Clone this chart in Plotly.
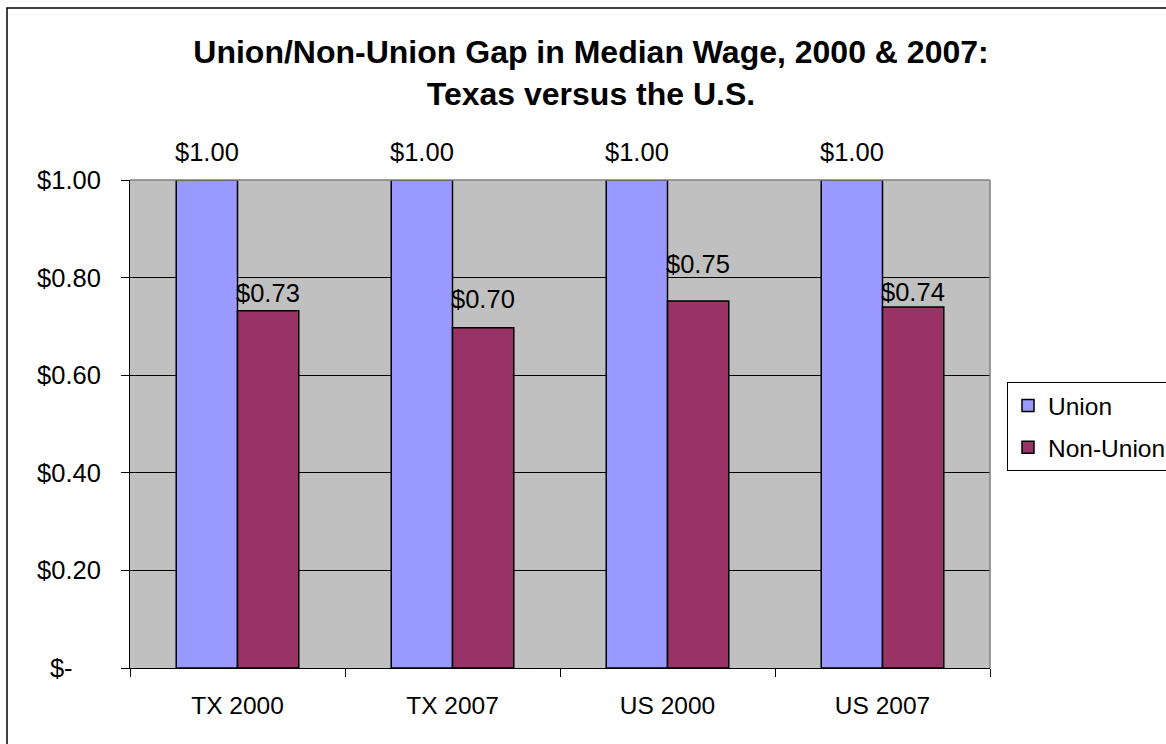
import plotly.graph_objects as go

categories = ["TX 2000", "TX 2007", "US 2000", "US 2007"]
union = [1.00, 1.00, 1.00, 1.00]
non_union = [0.732, 0.697, 0.752, 0.740]
y_tickvals = [0, 0.2, 0.4, 0.6, 0.8, 1.0]
y_ticktext = ["$-" + "\u00a0" * 4, "$0.20", "$0.40", "$0.60", "$0.80", "$1.00"]

FONT = "Liberation Sans, Arial, sans-serif"
BARGAP = 0.43
W, H = 1166, 744
L, R, T, B = 130, 990, 180, 668
pw, ph = R - L, B - T

# label vertical offsets (px above bar top, label middle) – styling only
union_label_shift = [28, 28, 28, 28]
nonunion_label_shift = [18, 29, 37, 15]

fig = go.Figure()
fig.add_trace(go.Bar(
    name="Union", x=categories, y=union, legendgroup="u",
    marker=dict(color="#9999FF", line=dict(color="black", width=1.5)),
))
fig.add_trace(go.Bar(
    name="Non-Union", x=categories, y=non_union, legendgroup="n",
    marker=dict(color="#993366", line=dict(color="black", width=1.5)),
))

half = (1 - BARGAP) / 4
annotations = []
for i, v in enumerate(union):
    annotations.append(dict(x=i - half, y=v, xref="x", yref="y", text=f"${v:.2f}",
                            showarrow=False, yanchor="middle", xanchor="center",
                            yshift=union_label_shift[i],
                            font=dict(size=25.5, family=FONT, color="black")))
for i, v in enumerate(non_union):
    annotations.append(dict(x=i + half, y=v, xref="x", yref="y", text=f"${v:.2f}",
                            showarrow=False, yanchor="middle", xanchor="center",
                            yshift=nonunion_label_shift[i],
                            font=dict(size=25.5, family=FONT, color="black")))


def px_x(p):
    return (p - L) / pw


def px_y(p):
    return (B - p) / ph


fig.update_layout(
    width=W, height=H,
    margin=dict(l=L, r=W - R, t=T, b=H - B, pad=0, autoexpand=False),
    paper_bgcolor="white", plot_bgcolor="#C0C0C0",
    font=dict(family=FONT, size=25, color="black"),
    title=dict(
        text="<b>Union/Non-Union Gap in Median Wage, 2000 & 2007:<br>Texas versus the U.S.</b>",
        xref="container", yref="container",
        x=591 / W, xanchor="center", y=1 - 63 / H, yanchor="middle",
        font=dict(size=32, family=FONT, color="black"),
    ),
    barmode="group", bargap=BARGAP, bargroupgap=0.0,
    showlegend=True,
    legend=dict(
        xref="container", yref="container",
        x=1007 / W, xanchor="left", y=1 - 382 / H, yanchor="top",
        bordercolor="black", borderwidth=1, bgcolor="white",
        font=dict(size=24.5, family=FONT, color="black"),
        tracegroupgap=7, traceorder="grouped",
    ),
    xaxis=dict(
        showgrid=False, ticks="outside", tickson="boundaries", ticklen=8,
        tickcolor="black", showline=True, linecolor="black", linewidth=1,
        tickfont=dict(size=24.5, family=FONT, color="black"),
        ticklabelstandoff=16,
    ),
    yaxis=dict(
        range=[0, 1.0], tickvals=y_tickvals, ticktext=y_ticktext,
        showgrid=True, gridcolor="black", gridwidth=1,
        ticks="outside", ticklen=8, tickcolor="black",
        showline=True, linecolor="black", linewidth=1,
        tickfont=dict(size=25.5, family=FONT, color="black"),
        ticklabelstandoff=15,
        zeroline=False,
    ),
    annotations=annotations,
)

# plot area top/right border (grey)
fig.add_shape(type="line", xref="paper", yref="paper", x0=1, x1=1, y0=0, y1=1,
              line=dict(color="#808080", width=1.5))
fig.add_shape(type="line", xref="paper", yref="paper", x0=0, x1=1, y0=1, y1=1,
              line=dict(color="#808080", width=1.5))
# outer chart border
fig.add_shape(type="rect", xref="paper", yref="paper",
              x0=px_x(7), x1=px_x(1175), y0=px_y(752), y1=px_y(8),
              line=dict(color="black", width=1.5), fillcolor="rgba(0,0,0,0)")

fig.write_html("out.html", config={"displayModeBar": False},
               post_script="document.body.style.margin='0';")
